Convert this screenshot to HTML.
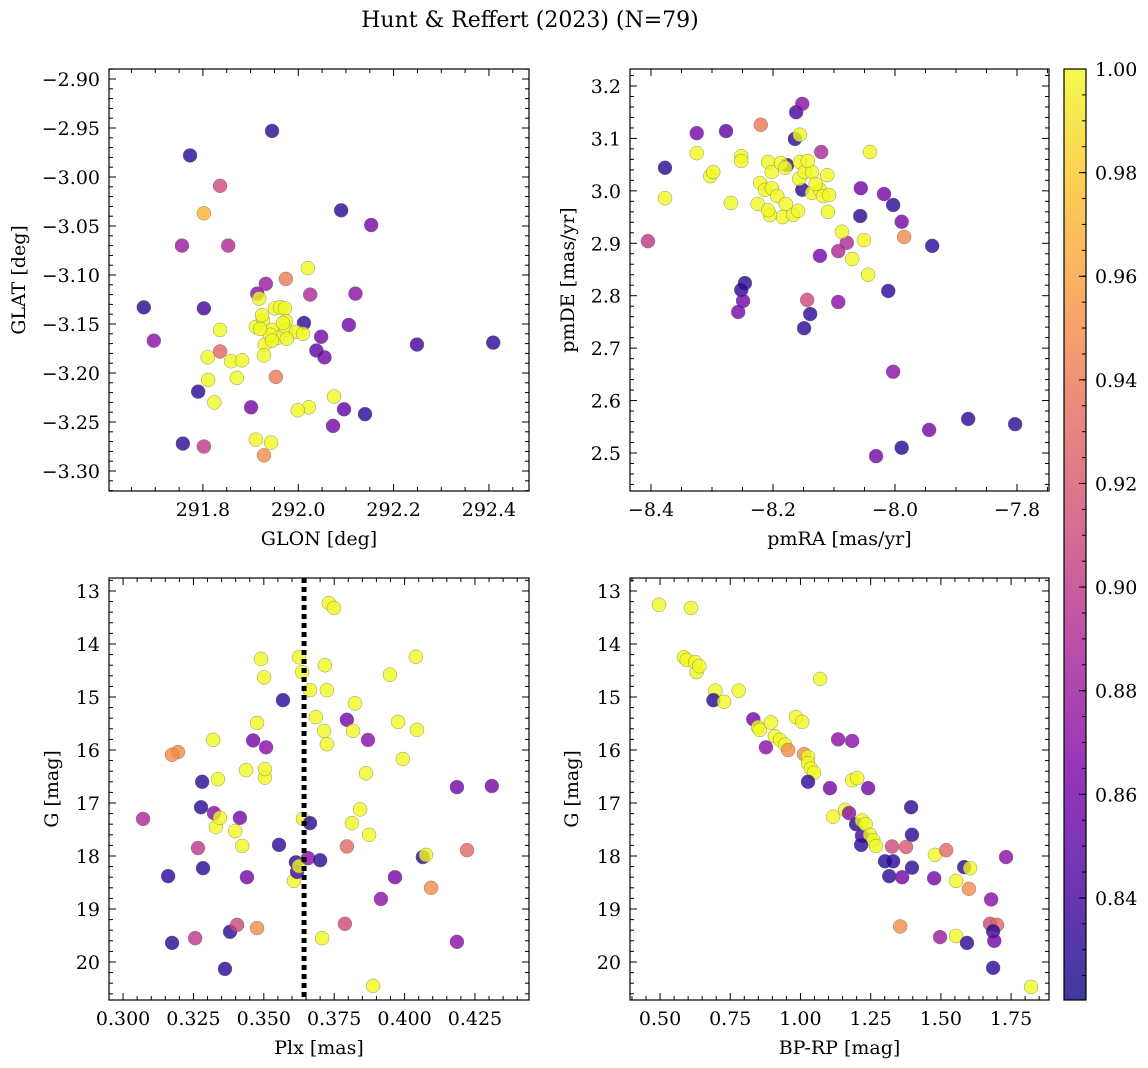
<!DOCTYPE html>
<html><head><meta charset="utf-8">
<style>
html,body{margin:0;padding:0;background:#fff;}
svg{display:block;font-family:"DejaVu Serif","Liberation Serif",serif;}
</style></head>
<body>
<svg id="fig" width="1148" height="1068" viewBox="0 0 1148 1068">
<defs>
<linearGradient id="plasma" x1="0" y1="1" x2="0" y2="0">
<stop offset="0" stop-color="#0d0887"/><stop offset="0.13" stop-color="#4c02a1"/><stop offset="0.25" stop-color="#7e03a8"/><stop offset="0.38" stop-color="#a92395"/><stop offset="0.5" stop-color="#cc4778"/><stop offset="0.63" stop-color="#e56b5d"/><stop offset="0.75" stop-color="#f89540"/><stop offset="0.88" stop-color="#fdc328"/><stop offset="1" stop-color="#f0f921"/>
</linearGradient>
</defs>
<text x="530" y="27" font-size="22" text-anchor="middle">Hunt &amp; Reffert (2023) (N=79)</text>
</svg>
<script>
// Panel 1: GLON / GLAT
const glon=[291.945,291.773,291.836,291.802,292.090,292.153,291.756,291.853,292.020,291.974,291.932,291.676,291.802,292.120,292.025,291.914,292.012,292.106,291.697,291.836,292.048,292.038,292.055,292.249,292.409,291.790,291.953,291.871,291.811,291.824,292.075,291.901,292.022,291.999,292.096,292.140,292.073,291.758,291.802,291.911,291.943,291.928,
291.810,291.836,291.859,291.882,291.918,291.911,291.930,291.945,291.951,291.962,291.972,291.974,291.974,291.995,291.957,291.941,291.926,291.928,291.945,291.976,291.924,291.968,292.010,291.920];
const glat=[-2.953,-2.978,-3.009,-3.037,-3.034,-3.049,-3.070,-3.070,-3.093,-3.104,-3.109,-3.133,-3.134,-3.119,-3.120,-3.119,-3.149,-3.151,-3.167,-3.178,-3.163,-3.177,-3.184,-3.171,-3.169,-3.219,-3.204,-3.205,-3.207,-3.230,-3.224,-3.235,-3.235,-3.238,-3.237,-3.242,-3.254,-3.272,-3.275,-3.268,-3.271,-3.284,
-3.184,-3.156,-3.188,-3.187,-3.124,-3.153,-3.171,-3.156,-3.134,-3.133,-3.134,-3.147,-3.156,-3.158,-3.164,-3.161,-3.146,-3.182,-3.167,-3.165,-3.141,-3.149,-3.160,-3.155];
const prob1=[0.83,0.83,0.91,0.97,0.83,0.86,0.88,0.89,1,0.94,0.88,0.83,0.84,0.87,0.89,0.87,0.83,0.86,0.87,0.93,0.86,0.85,0.86,0.84,0.83,0.83,0.94,1,1,1,1,0.86,1,1,0.85,0.83,0.86,0.83,0.9,1,1,0.95,
1,1,1,1,1,1,1,1,1,1,1,1,1,1,1,1,1,1,1,1,1,1,1,1];
// Panel 2: pmRA / pmDE
const pmra=[-8.377,-8.325,-8.277,-8.405,-8.220,-8.164,-8.162,-8.152,-8.121,-8.177,-8.152,-8.056,-8.018,-8.003,-7.989,-7.985,-8.057,-8.079,-8.093,-8.123,-7.939,-8.011,-8.246,-8.252,-8.249,-8.257,-8.144,-8.093,-8.139,-8.149,-8.003,-7.880,-7.944,-7.989,-8.031,-7.803,
-8.325,-8.303,-8.298,-8.377,-8.269,-8.252,-8.252,-8.208,-8.202,-8.225,-8.221,-8.213,-8.202,-8.193,-8.184,-8.187,-8.156,-8.157,-8.148,-8.180,-8.136,-8.136,-8.123,-8.111,-8.130,-8.110,-8.179,-8.167,-8.205,-8.159,-8.118,-8.108,-8.143,-8.087,-8.070,-8.044,-8.041,-8.051,-8.208,-8.156];
const pmde=[3.044,3.110,3.114,2.904,3.126,3.099,3.150,3.166,3.074,3.049,3.002,3.005,2.994,2.973,2.941,2.912,2.952,2.901,2.885,2.876,2.895,2.809,2.824,2.811,2.790,2.769,2.792,2.788,2.765,2.738,2.655,2.565,2.544,2.510,2.494,2.555,
3.072,3.028,3.036,2.986,2.977,3.066,3.057,3.055,3.036,2.975,3.015,3.002,3.005,2.990,2.950,3.053,3.055,3.023,3.036,3.044,3.036,2.996,3.002,3.030,3.013,2.960,2.975,2.954,2.954,2.962,2.990,2.992,3.057,2.922,2.870,2.840,3.074,2.906,2.963,3.107];
const prob2=[0.83,0.86,0.85,0.9,0.94,0.83,0.84,0.87,0.89,0.83,0.83,0.86,0.86,0.83,0.86,0.95,0.83,0.89,0.89,0.86,0.83,0.83,0.83,0.83,0.86,0.86,0.91,0.87,0.83,0.83,0.87,0.83,0.86,0.83,0.86,0.83,
1,1,1,1,1,1,1,1,1,1,1,1,1,1,1,1,1,1,1,1,1,1,1,1,1,1,1,1,1,1,1,1,1,1,1,1,1,1,1,1];
// Panel 3: Plx / G
const plx=[0.3071,0.3160,0.3174,0.3195,0.3174,0.3256,0.3266,0.3281,0.3277,0.3284,0.3320,0.3323,0.3330,0.3337,0.3344,0.3362,0.3380,0.3405,0.3398,0.3415,0.3423,0.3437,0.3440,0.3462,0.3476,0.3476,0.3490,0.3501,0.3504,0.3504,0.3508,0.3568,0.3554,0.3614,0.3607,0.3618,0.3625,0.3625,0.3636,0.3639,0.3664,0.3657,0.3664,0.3685,0.3707,0.3700,0.3717,0.3724,0.3714,0.3724,0.3731,0.3749,0.3795,0.3788,0.3795,0.3817,0.3813,0.3824,0.3842,0.3863,0.3870,0.3874,0.3916,0.3948,0.3966,0.3977,0.3994,0.4040,0.4044,0.4065,0.4076,0.4094,0.4186,0.4186,0.4222,0.4310,0.3888];
const gmag3=[17.30,18.38,19.64,16.04,16.09,19.55,17.85,16.60,17.08,18.23,15.81,17.19,17.45,16.55,17.28,20.13,19.43,19.30,17.53,17.28,17.81,16.38,18.40,15.82,19.36,15.49,14.28,14.63,16.52,16.36,15.95,15.06,17.79,18.12,18.47,18.30,18.19,14.25,14.53,17.30,17.38,18.04,14.87,15.38,19.55,18.08,14.40,14.87,15.64,15.89,13.23,13.32,15.43,19.28,17.82,15.64,17.38,15.12,17.12,16.44,15.81,17.60,18.81,14.58,18.40,15.47,16.17,14.24,15.62,18.02,17.98,18.60,16.70,19.62,17.89,16.68,20.45];
const prob3=[0.89,0.83,0.83,0.95,0.95,0.9,0.9,0.83,0.83,0.83,1,0.87,1,1,1,0.83,0.83,0.91,1,0.86,1,1,0.86,0.86,0.95,1,1,1,1,1,0.87,0.83,0.83,0.83,1,0.84,1,1,1,1,0.83,0.87,1,1,1,0.83,1,1,1,1,1,1,0.86,0.91,0.93,1,1,1,1,1,0.87,1,0.87,1,0.86,1,1,1,1,0.83,1,0.95,0.86,0.87,0.93,0.86,1];
// Panel 4: BP-RP / G
const bprp=[0.496,0.610,0.585,0.595,0.630,0.625,0.640,0.697,0.690,0.728,0.780,0.832,0.849,0.855,0.877,0.895,0.909,0.927,0.945,0.956,0.984,1.006,1.013,1.027,1.027,1.037,1.048,1.027,1.070,1.105,1.134,1.159,1.184,1.184,1.202,1.116,1.173,1.198,1.219,1.219,1.232,1.248,1.259,1.269,1.241,1.216,1.301,1.316,1.326,1.330,1.362,1.376,1.394,1.397,1.397,1.355,1.476,1.479,1.519,1.497,1.554,1.554,1.583,1.604,1.600,1.593,1.679,1.675,1.700,1.686,1.690,1.686,1.732,1.821];
const gmag4=[13.26,13.32,14.25,14.30,14.53,14.34,14.42,14.88,15.06,15.09,14.88,15.42,15.57,15.62,15.95,15.48,15.74,15.81,15.90,16.00,15.38,15.47,16.08,16.13,16.25,16.35,16.43,16.60,14.66,16.72,15.80,17.13,15.83,16.57,16.53,17.26,17.19,17.40,17.62,17.33,17.40,17.60,17.70,17.81,16.72,17.79,18.10,18.38,17.82,18.10,18.40,17.83,17.08,17.60,18.22,19.33,18.42,17.98,17.89,19.53,19.51,18.47,18.21,18.23,18.62,19.64,18.82,19.28,19.30,19.42,19.60,20.11,18.02,20.47];
const prob4=[1,1,1,1,1,1,1,1,0.83,1,1,0.86,1,1,0.87,1,1,1,1,0.95,1,1,0.95,1,1,1,1,0.83,1,0.86,0.87,1,0.87,1,1,1,0.87,0.83,0.84,1,1,1,1,1,0.86,0.83,0.83,0.83,0.91,0.83,0.86,0.92,0.83,0.83,0.83,0.95,0.86,1,0.93,0.88,1,1,0.83,1,0.95,0.83,0.87,0.91,0.93,0.83,0.86,0.83,0.87,1];
const plxRef=[0.3643];
const cbTicks=[0.84,0.86,0.88,0.90,0.92,0.94,0.96,0.98,1.00];
const cmin=0.8203, cmax=1.0;

const FS=19;
const svg=document.getElementById('fig');
const NS='http://www.w3.org/2000/svg';
function mk(tag,attrs,parent){const e=document.createElementNS(NS,tag);for(const k in attrs)e.setAttribute(k,attrs[k]);(parent||svg).appendChild(e);return e;}
const stops=[[0,[13,8,135]],[0.13,[76,2,161]],[0.25,[126,3,168]],[0.38,[169,35,149]],[0.5,[204,71,120]],[0.63,[229,107,93]],[0.75,[248,149,64]],[0.88,[253,195,40]],[1,[240,249,33]]];
function plasma(p){let t=(p-cmin)/(cmax-cmin);t=Math.max(0,Math.min(1,t));for(let i=1;i<stops.length;i++){if(t<=stops[i][0]){const a=stops[i-1],b=stops[i];const f=(t-a[0])/(b[0]-a[0]);const c=a[1].map((v,j)=>Math.round(v+(b[1][j]-v)*f));return 'rgb('+c.join(',')+')';}}return 'rgb(240,249,33)';}
const fmt=(v,d)=>{const s=Math.abs(v).toFixed(d);return (v<-1e-9?'\u2212':'')+s;};

function panel(o){
  const g=mk('g',{});
  
  
  const sx=v=>o.x0+(v-o.xmin)/(o.xmax-o.xmin)*(o.x1-o.x0);
  const sy=o.yinv?(v=>o.y0+(v-o.ymin)/(o.ymax-o.ymin)*(o.y1-o.y0)):(v=>o.y1-(v-o.ymin)/(o.ymax-o.ymin)*(o.y1-o.y0));
  const pts=mk('g',{},g);
  
  
  o.xs.forEach((xv,i)=>{const c=mk('circle',{cx:sx(xv),cy:sy(o.ys[i]),r:7,fill:plasma(o.ps[i]),'fill-opacity':0.8,stroke:'#666','stroke-width':0.5,'stroke-opacity':0.7},pts);
    
    });
  if(o.vline){const l=mk('line',{x1:sx(o.vline),x2:sx(o.vline),y1:o.y0,y2:o.y1,stroke:'#000','stroke-width':5,'stroke-dasharray':'5,4'},g);
    
    }
  const ax=mk('rect',{x:o.x0,y:o.y0,width:o.x1-o.x0,height:o.y1-o.y0,fill:'none',stroke:'#000','stroke-width':1.2},g);
  
  
  const e=1e-9;
  for(let v=Math.ceil(o.xmin/o.xminor-e)*o.xminor;v<=o.xmax+e;v+=o.xminor){const X=sx(v);const maj=Math.abs(v/o.xmajor-Math.round(v/o.xmajor))<1e-6;const L=maj?7:4;
    mk('line',{x1:X,x2:X,y1:o.y1,y2:o.y1-L,stroke:'#000','stroke-width':1},g);mk('line',{x1:X,x2:X,y1:o.y0,y2:o.y0+L,stroke:'#000','stroke-width':1},g);
    if(maj){const t=mk('text',{x:X,y:o.y1+25,'font-size':FS,'text-anchor':'middle'},g);t.textContent=fmt(v,o.xd);
      
      }}
  for(let v=Math.ceil(o.ymin/o.yminor-e)*o.yminor;v<=o.ymax+e;v+=o.yminor){const Y=sy(v);const maj=Math.abs(v/o.ymajor-Math.round(v/o.ymajor))<1e-6;const L=maj?7:4;
    mk('line',{x1:o.x0,x2:o.x0+L,y1:Y,y2:Y,stroke:'#000','stroke-width':1},g);mk('line',{x1:o.x1,x2:o.x1-L,y1:Y,y2:Y,stroke:'#000','stroke-width':1},g);
    if(maj){const t=mk('text',{x:o.x0-9,y:Y+7,'font-size':FS,'text-anchor':'end'},g);t.textContent=fmt(v,o.yd);
      
      }}
  const xl=mk('text',{x:(o.x0+o.x1)/2,y:o.y1+54,'font-size':FS,'text-anchor':'middle'},g);xl.textContent=o.xlabel;
  
  
  const yx=o.x0-o.ylabOff, yy=(o.y0+o.y1)/2;
  const yl=mk('text',{x:yx,y:yy,'font-size':FS,'text-anchor':'middle',transform:'rotate(-90 '+yx+' '+yy+')'},g);yl.textContent=o.ylabel;
  
  
}
panel({name:'panel-glon-glat',x0:109,x1:529,y0:69,y1:491,xmin:291.603,xmax:292.484,ymin:-3.3204,ymax:-2.8898,xmajor:0.2,xminor:0.05,ymajor:0.05,yminor:0.01,xd:1,yd:2,xs:glon,ys:glat,ps:prob1,xlabel:'GLON [deg]',ylabel:'GLAT [deg]',ylabOff:84});
panel({name:'panel-pmra-pmde',x0:630,x1:1049,y0:69,y1:491,xmin:-8.4344,xmax:-7.7475,ymin:2.4275,ymax:3.2324,xmajor:0.2,xminor:0.05,ymajor:0.1,yminor:0.02,xd:1,yd:1,xs:pmra,ys:pmde,ps:prob2,xlabel:'pmRA [mas/yr]',ylabel:'pmDE [mas/yr]',ylabOff:56});
panel({name:'panel-plx-g',x0:109,x1:529,y0:578,y1:1000,xmin:0.2950,xmax:0.4442,ymin:12.755,ymax:20.717,yinv:true,xmajor:0.025,xminor:0.005,ymajor:1,yminor:0.2,xd:3,yd:0,xs:plx,ys:gmag3,ps:prob3,xlabel:'Plx [mas]',ylabel:'G [mag]',ylabOff:51,vline:plxRef[0]});
panel({name:'panel-bprp-g',x0:630,x1:1049,y0:578,y1:1000,xmin:0.393,xmax:1.885,ymin:12.755,ymax:20.717,yinv:true,xmajor:0.25,xminor:0.05,ymajor:1,yminor:0.2,xd:2,yd:0,xs:bprp,ys:gmag4,ps:prob4,xlabel:'BP-RP [mag]',ylabel:'G [mag]',ylabOff:52});
const cb=mk('g',{});


mk('rect',{x:1064,y:69,width:22,height:931,fill:'url(#plasma)','fill-opacity':0.8},cb);
mk('rect',{x:1064,y:69,width:22,height:931,fill:'none',stroke:'#000','stroke-width':1.2},cb);
const cy=v=>1000-(v-cmin)/(cmax-cmin)*931;
for(let v=0.825;v<=1.0001;v+=0.005){const Y=cy(v);mk('line',{x1:1086,x2:1082,y1:Y,y2:Y,stroke:'#000','stroke-width':1},cb);}
cbTicks.forEach(v=>{const Y=cy(v);mk('line',{x1:1086,x2:1079,y1:Y,y2:Y,stroke:'#000','stroke-width':1},cb);
  const t=mk('text',{x:1095,y:Y+7,'font-size':FS},cb);t.textContent=v.toFixed(2);
  
  });
</script>
</body></html>
